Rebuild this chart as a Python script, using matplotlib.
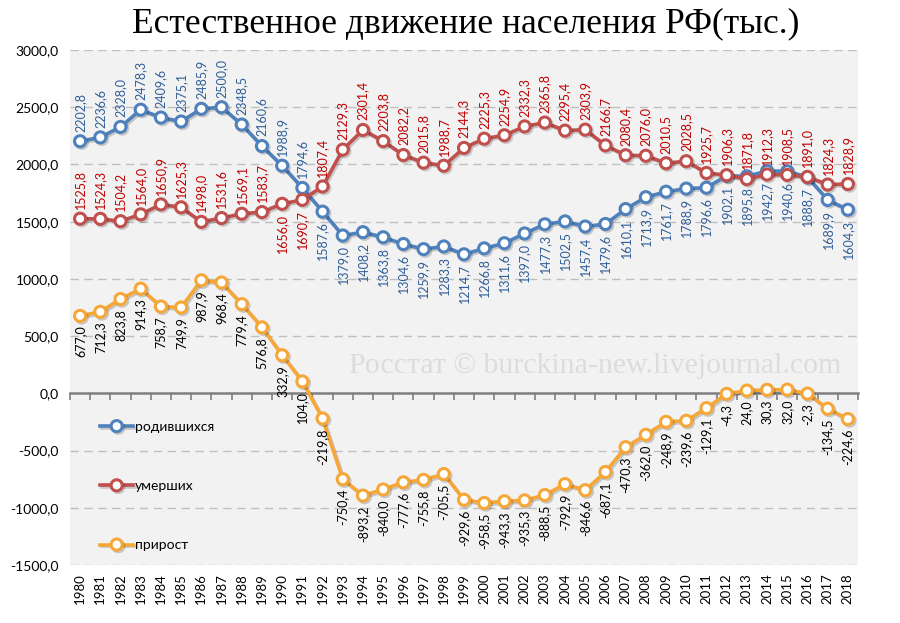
import numpy as np
import matplotlib
matplotlib.use("Agg")
import matplotlib.pyplot as plt
import matplotlib.patheffects as pe

# Data (тыс. человек)
years = list(range(1980, 2019))

births = [2202.8, 2236.6, 2328.0, 2478.3, 2409.6, 2375.1, 2485.9, 2500.0, 2348.5, 2160.6,
          1988.9, 1794.6, 1587.6, 1379.0, 1408.2, 1363.8, 1304.6, 1259.9, 1283.3, 1214.7,
          1266.8, 1311.6, 1397.0, 1477.3, 1502.5, 1457.4, 1479.6, 1610.1, 1713.9, 1761.7,
          1788.9, 1796.6, 1902.1, 1895.8, 1942.7, 1940.6, 1888.7, 1689.9, 1604.3]

deaths = [1525.8, 1524.3, 1504.2, 1564.0, 1650.9, 1625.3, 1498.0, 1531.6, 1569.1, 1583.7,
          1656.0, 1690.7, 1807.4, 2129.3, 2301.4, 2203.8, 2082.2, 2015.8, 1988.7, 2144.3,
          2225.3, 2254.9, 2332.3, 2365.8, 2295.4, 2303.9, 2166.7, 2080.4, 2076.0, 2010.5,
          2028.5, 1925.7, 1906.3, 1871.8, 1912.3, 1908.5, 1891.0, 1824.3, 1828.9]

growth = [677.0, 712.3, 823.8, 914.3, 758.7, 749.9, 987.9, 968.4, 779.4, 576.8,
          332.9, 104.0, -219.8, -750.4, -893.2, -840.0, -777.6, -755.8, -705.5, -929.6,
          -958.5, -943.3, -935.3, -888.5, -792.9, -846.6, -687.1, -470.3, -362.0, -248.9,
          -239.6, -129.1, -4.3, 24.0, 30.3, 32.0, -2.3, -134.5, -224.6]

yticks = list(range(-1500, 3001, 500))

# label side: +1 above the point, -1 below
births_side = [1] * 12 + [-1] * 27
deaths_side = [1] * 10 + [-1] * 2 + [1] * 27
growth_side = [-1] * 39


def fmt(v):
    return f"{v:.1f}".replace(".", ",")


plt.rcParams['font.family'] = ['Lato', 'DejaVu Sans']

fig = plt.figure(figsize=(9, 6.23), dpi=100)
ax = fig.add_axes([70 / 900, 1 - 565 / 623, 788 / 900, 515 / 623])
ax.set_facecolor("#F2F2F2")

x = np.arange(len(years))

series = [
    ("родившихся", births, births_side, "#4F81BD", "#2F5E99"),
    ("умерших", deaths, deaths_side, "#C0504D", "#C00000"),
    ("прирост", growth, growth_side, "#F7A737", "#000000"),
]

shadow = [pe.SimpleLineShadow(offset=(1.2, -1.2), shadow_color="k", alpha=0.18), pe.Normal()]

for name, vals, sides, col, lcol in series:
    ax.plot(x, vals, color=col, lw=2.6, marker="o", ms=8, mfc="white",
            mec=col, mew=2.2, label=name, zorder=4, path_effects=shadow)
    for xi, v, s in zip(x, vals, sides):
        ax.annotate(fmt(v), (xi, v), xytext=(0, 7 * s), textcoords="offset points",
                    rotation=90, ha="center", va="bottom" if s > 0 else "top",
                    fontsize=9, color=lcol, zorder=5)

ax.set_xlim(-0.5, len(years) - 0.5)
ax.set_ylim(-1500, 3000)
ax.set_yticks(yticks)
ax.set_yticklabels([fmt(v) for v in yticks], fontsize=10)
ax.tick_params(axis="y", length=0, pad=8)

# dashed gridlines
for v in yticks:
    if v != 0:
        ax.axhline(v, color="#BFBFBF", lw=1, ls=(0, (6, 4)), zorder=1)

for s in ["top", "right", "left"]:
    ax.spines[s].set_visible(False)
ax.spines["bottom"].set_position(("data", 0))
ax.spines["bottom"].set_color("#7F7F7F")
ax.spines["bottom"].set_linewidth(1.8)
ax.spines["bottom"].set_zorder(2)
ax.set_xticks(np.arange(len(years) + 1) - 0.5)
ax.set_xticklabels([])
ax.tick_params(axis="x", direction="out", length=5, width=1.2, color="#7F7F7F")

sec = ax.secondary_xaxis(0.0)
sec.set_xticks(x)
sec.set_xticklabels([str(y) for y in years], rotation=90, fontsize=9.5)
sec.tick_params(length=0, pad=6)
sec.spines["bottom"].set_visible(False)

leg = ax.legend(loc="upper left", bbox_to_anchor=(100 / 900, 1 - 421 / 623),
                bbox_transform=fig.transFigure, frameon=False, fontsize=10,
                labelspacing=3.4, handlelength=2.4, handletextpad=0.1,
                borderpad=0, borderaxespad=0)

ax.text(595 / 900, 1 - 366 / 623, "Росстат © burckina-new.livejournal.com",
        transform=fig.transFigure, ha="center", va="center", fontsize=21.5,
        family="Liberation Serif", color="#DCDCDC", zorder=0)

fig.text(466 / 900, 1 - 24 / 623, "Естественное движение населения РФ(тыс.)",
         ha="center", va="center", fontsize=25.5, family="Liberation Serif")

fig.savefig("out.png", dpi=100, facecolor="white")
